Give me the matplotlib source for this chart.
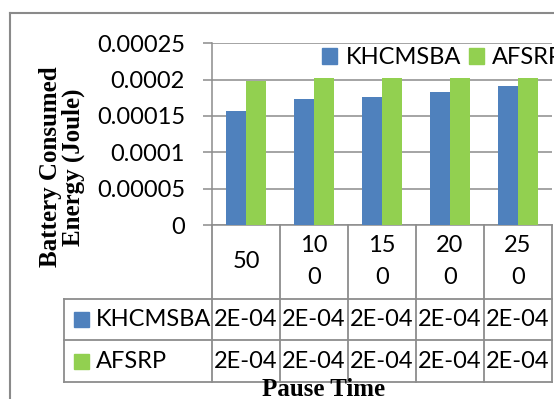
import matplotlib
matplotlib.use("Agg")
import matplotlib.pyplot as plt
from matplotlib.lines import Line2D
from matplotlib.patches import Rectangle
from matplotlib.transforms import blended_transform_factory

categories = ["50", "100", "150", "200", "250"]
khcmsba = [0.000157, 0.000173, 0.000176, 0.000183, 0.000191]
afsrp = [0.000198, 0.000202, 0.000202, 0.000202, 0.000202]
series_names = ["KHCMSBA", "AFSRP"]
y_ticks = [0, 0.00005, 0.0001, 0.00015, 0.0002, 0.00025]
y_tick_labels = ["0", "0.00005", "0.0001", "0.00015", "0.0002", "0.00025"]
y_title = "Battery Consumed\nEnergy (Joule)"
x_title = "Pause Time"

BLUE = "#4F81BD"
GREEN = "#92D050"
GRID = "#8c8c8c"
W, H = 554, 399
SANS = "Lato"
SERIF = "Liberation Serif"
FS = 17

fig = plt.figure(figsize=(W / 100, H / 100), dpi=100)

def fx(px):
    return px / W

def fy(py):
    return 1 - py / H

ax = fig.add_axes([fx(212), fy(225), 340 / W, 181.7 / H])
n = len(categories)
xs = list(range(n))
bw = 0.287
ax.bar([x - bw / 2 for x in xs], khcmsba, width=bw, color=BLUE, zorder=3)
ax.bar([x + bw / 2 for x in xs], afsrp, width=bw, color=GREEN, zorder=3)
ax.set_xlim(-0.5, n - 0.5)
ax.set_ylim(0, 0.00025)
ax.set_yticks(y_ticks)
ax.set_yticklabels(y_tick_labels, fontfamily=SANS, fontsize=FS)
ax.set_xticks([])
ax.tick_params(axis="y", length=6.5, width=1.1, color=GRID, pad=13)
ax.grid(axis="y", color=GRID, linewidth=1.1, zorder=0)
for s in ["top", "right"]:
    ax.spines[s].set_visible(False)
for s in ["left", "bottom"]:
    ax.spines[s].set_color(GRID)
    ax.spines[s].set_linewidth(1.1)
ax.set_facecolor("none")

# legend
handles = [Rectangle((0, 0), 1, 1, color=BLUE), Rectangle((0, 0), 1, 1, color=GREEN)]
fig.legend(handles, series_names, loc="center left", bbox_to_anchor=(fx(322), fy(58)),
           ncol=2, frameon=False, prop={"family": SANS, "size": FS},
           handlelength=0.64, handleheight=0.64, handletextpad=0.35,
           columnspacing=0.35, borderpad=0, borderaxespad=0)

# data table
bt = blended_transform_factory(ax.transData, fig.transFigure)
lkw = dict(color=GRID, linewidth=1.3)
row_tops = [225, 299, 340, 382]
# vertical lines at category boundaries
for i in range(n + 1):
    xb = i - 0.5
    fig.add_artist(Line2D([xb, xb], [fy(225), fy(382)], transform=bt, **lkw))
# label column
fig.add_artist(Line2D([fx(64), fx(64)], [fy(299), fy(382)], **lkw))
for yy in row_tops[1:]:
    fig.add_artist(Line2D([fx(64), fx(552)], [fy(yy), fy(yy)], **lkw))

# header labels (wrapped like Excel)
for i, c in enumerate(categories):
    if len(c) <= 2:
        fig.text(i, fy(262), c, transform=bt, ha="center", va="center",
                 family=SANS, fontsize=FS)
    else:
        fig.text(i, fy(246), c[:2], transform=bt, ha="center", va="center",
                 family=SANS, fontsize=FS)
        fig.text(i, fy(278), c[2:], transform=bt, ha="center", va="center",
                 family=SANS, fontsize=FS)

rows = [khcmsba, afsrp]
row_cy = [319.5, 361]
for r, (vals, name, col, cy) in enumerate(zip(rows, series_names, [BLUE, GREEN], row_cy)):
    fig.add_artist(Rectangle((fx(74), fy(cy + 7.5)), 15 / W, 15 / H, color=col,
                             transform=fig.transFigure))
    fig.text(fx(96), fy(cy), name, ha="left", va="center", family=SANS, fontsize=FS)
    for i, v in enumerate(vals):
        fig.text(i, fy(cy), f"{v:.0E}", transform=bt, ha="center", va="center",
                 family=SANS, fontsize=FS)

# axis titles
fig.text(fx(324), fy(389), x_title, ha="center", va="center", family=SERIF,
         fontweight="bold", fontsize=18)
fig.text(fx(62), fy(167), y_title, ha="center", va="center", rotation=90,
         family=SERIF, fontweight="bold", fontsize=18, linespacing=0.95)

# outer chart border (partially visible)
fig.add_artist(Line2D([fx(10), fx(10)], [fy(13), 0], color="#8a8a8a", linewidth=1.5))
fig.add_artist(Line2D([fx(10), 1], [fy(13), fy(13)], color="#8a8a8a", linewidth=1.5))

fig.savefig("out.png", dpi=100)
